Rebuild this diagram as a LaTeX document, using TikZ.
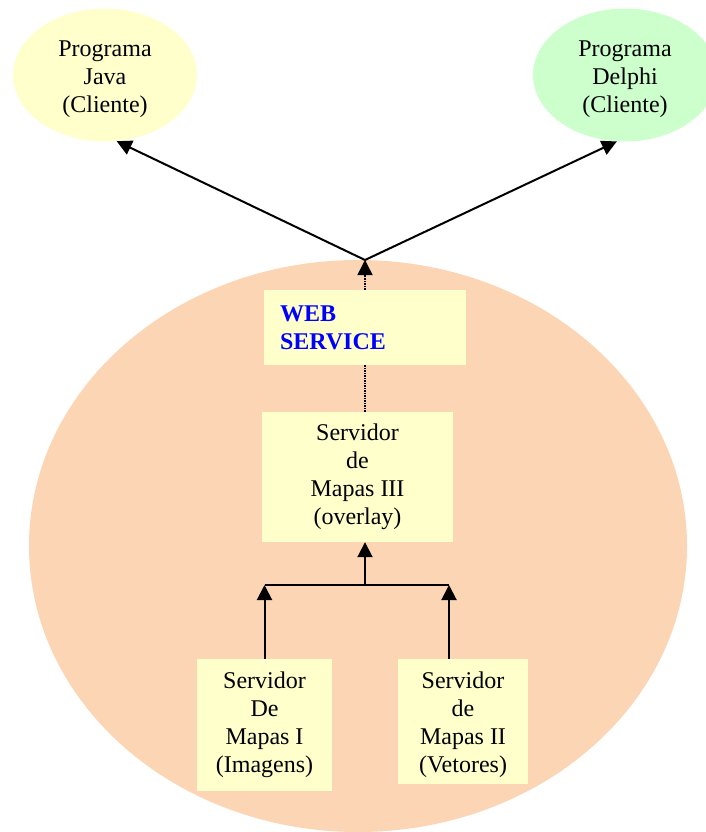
\documentclass[tikz,border=0pt]{standalone}
\usepackage{fontspec}
\setmainfont{Liberation Serif}
\usetikzlibrary{arrows.meta,shapes.geometric,calc}
\definecolor{peach}{RGB}{252,213,180}
\definecolor{paleyellow}{RGB}{255,255,204}
\definecolor{palegreen}{RGB}{204,255,204}
\definecolor{wsblue}{RGB}{0,0,255}
\begin{document}
\begin{tikzpicture}[x=1pt,y=-1pt,
  txt/.style={font=\fontsize{24}{28}\selectfont},
  client/.style={ellipse, minimum width=184pt, minimum height=133pt, inner sep=0pt},
  srvbox/.style={txt, rectangle, fill=paleyellow, inner sep=0pt, align=center},
  conn/.style={line width=2pt},
  tip/.style={-{Triangle[length=15pt,width=15pt]}},
  arr/.style={conn, tip},
  dots/.style={line width=1.5pt, densely dotted}
]
\useasboundingbox (0,0) rectangle (706,832);
\clip (0,0) rectangle (706,832);
% background cloud
\node[ellipse, fill=peach, inner sep=0pt, minimum width=658pt, minimum height=572pt] (cloud) at (358,546) {};
% clients
\node[client, fill=paleyellow,
      label={[txt, align=center, yshift=-4pt]center:Programa\\Java\\(Cliente)}] (java) at (105,75) {};
\node[client, fill=palegreen,
      label={[txt, align=center, yshift=-4pt]center:Programa\\Delphi\\(Cliente)}] (delphi) at (625,75) {};
% boxes
\node[srvbox, minimum height=75pt, text width=170pt, inner xsep=16pt, align=left,
      text=wsblue, font=\fontsize{24}{28}\selectfont\bfseries] (ws) at (365,327.5) {WEB\\SERVICE};
\node[srvbox, minimum width=191pt, minimum height=130pt] (s3) at (357.5,477) {Servidor\\de\\Mapas III\\(overlay)};
\node[srvbox, minimum width=135pt, minimum height=132pt] (img) at (264.5,725) {Servidor\\De\\Mapas I\\(Imagens)};
\node[srvbox, minimum width=130pt, minimum height=125pt,
      label={[txt, align=center, yshift=-3.5pt]center:Servidor\\de\\Mapas II\\(Vetores)}] (vet) at (463,721.5) {};
% coordinates
\coordinate (apex) at (365,260);
\coordinate (junc) at (365,585);
\coordinate (vtop) at ($(vet.north)+(-14,0)$);
% connectors
\draw[dots, tip] (ws.north) -- (apex);
\draw[arr] (apex) -- (java.-80);
\draw[arr] (apex) -- (delphi.-97);
\draw[dots] (ws.south) -- (ws.south |- s3.north);
\draw[arr] (junc) -- (junc |- s3.south);
\draw[conn] (img.north |- junc) -- (vtop |- junc);
\draw[arr] (img.north) -- (img.north |- junc);
\draw[arr] (vtop) -- (vtop |- junc);
\end{tikzpicture}
\end{document}
